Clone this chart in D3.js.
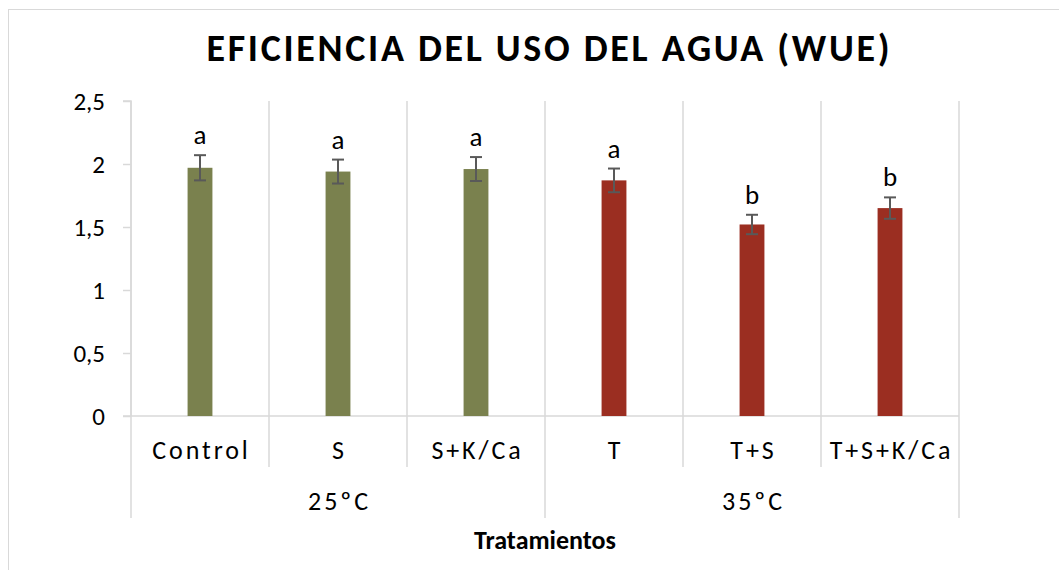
<!DOCTYPE html>
<html>
<head>
<meta charset="utf-8">
<script src="https://cdn.jsdelivr.net/npm/d3@7"></script>
<style>
  html, body { margin: 0; padding: 0; background: #fff; }
  svg { display: block; }
  text { font-family: Carlito, Calibri, Lato, "Open Sans", sans-serif; fill: #000; }
</style>
</head>
<body>
<svg id="chart" width="1059" height="570"></svg>
<script>
// ---- data ----
const categories = ["Control", "S", "S+K/Ca", "T", "T+S", "T+S+K/Ca"];
const groups = ["25ºC", "25ºC", "25ºC", "35ºC", "35ºC", "35ºC"];
const groupLabels = ["25ºC", "35ºC"];
const values = [1.97, 1.94, 1.96, 1.87, 1.52, 1.65];
const errors = [0.10, 0.095, 0.095, 0.094, 0.077, 0.085];
const letters = ["a", "a", "a", "a", "b", "b"];
const yTicks = [0, 0.5, 1, 1.5, 2, 2.5];
const title = "EFICIENCIA DEL USO DEL AGUA (WUE)";
const xTitle = "Tratamientos";

// ---- styles ----
const colorFor = { "25ºC": "#7a814e", "35ºC": "#9b2e21" };
const gridColor = "#d9d9d9";
const errColor = "#595959";

const svg = d3.select("#chart");

// chart border (left/top visible)
svg.append("rect").attr("x", 8.5).attr("y", 9.5).attr("width", 1200).attr("height", 700)
  .attr("fill", "none").attr("stroke", gridColor).attr("stroke-width", 1);

const pLeft = 131, pRight = 959, pTop = 101, pBottom = 416;

const x = d3.scaleBand().domain(categories).range([pLeft, pRight]).padding(0);
const y = d3.scaleLinear().domain([0, 2.5]).range([pBottom, pTop]);
const locale = d3.formatLocale({ decimal: ",", thousands: ".", grouping: [3], currency: ["", "€"] });
const fmt = locale.format("");

// vertical gridlines / category separators
const boundaries = categories.map(c => x(c)).concat([x.range()[1]]);
svg.append("g").selectAll("line").data(boundaries).join("line")
  .attr("x1", d => d).attr("x2", d => d)
  .attr("y1", pTop).attr("y2", 467)
  .attr("stroke", gridColor).attr("stroke-width", 1.5);

// group separators extend further
const groupBounds = [x(categories[0]), x(categories[3]), x.range()[1]];
svg.append("g").selectAll("line").data(groupBounds).join("line")
  .attr("x1", d => d).attr("x2", d => d)
  .attr("y1", 467).attr("y2", 518)
  .attr("stroke", gridColor).attr("stroke-width", 1.5);

// y axis
const yAxis = d3.axisLeft(y).tickValues(yTicks).tickFormat(fmt).tickSize(8).tickPadding(18);
const gy = svg.append("g").attr("transform", `translate(${pLeft},0)`).call(yAxis);
gy.attr("font-size", null).attr("font-family", null);
gy.select(".domain").attr("stroke", gridColor).attr("stroke-width", 1.5).attr("d", `M-8,${pTop}H0V${pBottom}`);
gy.selectAll(".tick line").attr("stroke", gridColor).attr("stroke-width", 1.5);
gy.selectAll(".tick text").attr("fill", "#000")
  .style("font-size", "25px")
  .style("font-family", "Carlito, Calibri, Lato, sans-serif");

// x axis baseline
svg.append("line").attr("x1", pLeft - 8).attr("x2", pRight).attr("y1", pBottom).attr("y2", pBottom)
  .attr("stroke", gridColor).attr("stroke-width", 1.5);

// bars
const bw = x.bandwidth() * 0.18;
svg.append("g").selectAll("rect").data(categories).join("rect")
  .attr("x", (c) => x(c) + x.bandwidth() / 2 - bw / 2)
  .attr("width", bw)
  .attr("y", (c, i) => y(values[i]))
  .attr("height", (c, i) => y(0) - y(values[i]))
  .attr("fill", (c, i) => colorFor[groups[i]]);

// error bars
const eg = svg.append("g").attr("stroke", errColor).attr("stroke-width", 2);
categories.forEach((c, i) => {
  const cx = x(c) + x.bandwidth() / 2;
  const y1 = y(values[i] + errors[i]), y2 = y(values[i] - errors[i]);
  eg.append("line").attr("x1", cx).attr("x2", cx).attr("y1", y1).attr("y2", y2);
  eg.append("line").attr("x1", cx - 6).attr("x2", cx + 6).attr("y1", y1).attr("y2", y1);
  eg.append("line").attr("x1", cx - 6).attr("x2", cx + 6).attr("y1", y2).attr("y2", y2);
});

// significance letters
svg.append("g").selectAll("text").data(categories).join("text")
  .attr("x", c => x(c) + x.bandwidth() / 2)
  .attr("y", (c, i) => y(values[i] + errors[i]) - 11)
  .attr("text-anchor", "middle").style("font-size", "27px")
  .text((c, i) => letters[i]);

// category labels
svg.append("g").selectAll("text").data(categories).join("text")
  .attr("x", c => x(c) + x.bandwidth() / 2 + 1.5)
  .attr("y", 459)
  .attr("text-anchor", "middle").style("font-size", "26px")
  .style("letter-spacing", "2.9px")
  .text(c => c);

// group labels
const groupCenters = groupLabels.map(g => {
  const cs = categories.filter((c, i) => groups[i] === g);
  return (x(cs[0]) + x(cs[cs.length - 1]) + x.bandwidth()) / 2;
});
svg.append("g").selectAll("text").data(groupLabels).join("text")
  .attr("x", (g, i) => groupCenters[i] + 1.5)
  .attr("y", 510)
  .attr("text-anchor", "middle").style("font-size", "26px")
  .style("letter-spacing", "2.9px")
  .text(g => g);

// axis title
svg.append("text").attr("x", 545).attr("y", 549).attr("text-anchor", "middle")
  .style("font-size", "26px").style("font-weight", "bold").text(xTitle);

// chart title
svg.append("text").attr("x", 548).attr("y", 61).attr("text-anchor", "middle")
  .style("font-size", "38px").style("font-weight", "bold")
  .attr("textLength", 683).attr("lengthAdjust", "spacing")
  .text(title);
</script>
</body>
</html>
